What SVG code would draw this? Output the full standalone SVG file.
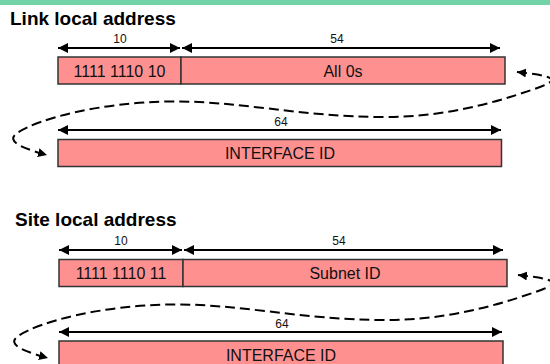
<svg xmlns="http://www.w3.org/2000/svg" width="550" height="364" viewBox="0 0 550 364">
<style>
.title{font-family:"Liberation Sans",Arial,sans-serif;font-weight:bold;font-size:19px;fill:#000}
.lbl{font-family:"Liberation Sans",Arial,sans-serif;font-size:12px;fill:#111;text-anchor:middle}
.btxt{font-family:"Liberation Sans",Arial,sans-serif;font-size:16px;fill:#111;text-anchor:middle}
.box{fill:#FF9090;stroke:#333;stroke-width:1.5}
.dim{stroke:#000;stroke-width:2.2;fill:none;marker-start:url(#ah);marker-end:url(#ah)}
.loop{stroke:#000;stroke-width:2;fill:none;stroke-dasharray:10,5;marker-start:url(#sh);marker-end:url(#sh)}
</style>
<defs>
<marker id="ah" viewBox="0 0 10 10" refX="10" refY="5" markerWidth="10" markerHeight="10" markerUnits="userSpaceOnUse" orient="auto-start-reverse"><path d="M0,0 L10,5 L0,10 z" fill="#000"/></marker>
<marker id="sh" viewBox="0 0 10 10" refX="10" refY="5" markerWidth="9" markerHeight="9" markerUnits="userSpaceOnUse" orient="auto-start-reverse"><path d="M0,0 L10,5 L0,10 z" fill="#000"/></marker>
</defs>
<rect x="0" y="0" width="550" height="5" fill="#72D3A8"/>

<g id="link-title"><text class="title" x="10" y="25">Link local address</text></g>
<g id="link-prefix"><rect class="box" x="58" y="57" width="123" height="27"/><text class="btxt" x="119.5" y="76.5">1111 1110 10</text></g>
<g id="link-zeros"><rect class="box" x="181" y="57" width="324" height="27"/><text class="btxt" x="343" y="76.5">All 0s</text></g>
<g id="link-iid"><rect class="box" x="58" y="139.5" width="443.5" height="27"/><text class="btxt" x="280" y="159">INTERFACE ID</text></g>

<g id="site-title"><text class="title" x="15" y="226">Site local address</text></g>
<g id="site-prefix"><rect class="box" x="59" y="259.5" width="124" height="27"/><text class="btxt" x="121" y="279">1111 1110 11</text></g>
<g id="site-subnet"><rect class="box" x="183" y="259.5" width="324" height="27"/><text class="btxt" x="345" y="279">Subnet ID</text></g>
<g id="site-iid"><rect class="box" x="59" y="341" width="444" height="27"/><text class="btxt" x="281" y="360.5">INTERFACE ID</text></g>

<g id="connectors">
<line class="dim" x1="58" y1="48" x2="180" y2="48"/>
<text class="lbl" x="120" y="42.5">10</text>
<line class="dim" x1="182" y1="48" x2="500" y2="48"/>
<text class="lbl" x="337" y="42.5">54</text>
<line class="dim" x1="58" y1="130" x2="501" y2="130"/>
<text class="lbl" x="281" y="125.5">64</text>
<path class="loop" d="M517,72 C545,75 565,78 540,87 C490,105 440,117 385,117 C300,117 235,100 167,101.5 C100,103 40,118 17,133 C8,140 14,146 47,155"/>

<line class="dim" x1="59" y1="250" x2="182" y2="250"/>
<text class="lbl" x="121" y="245">10</text>
<line class="dim" x1="184" y1="250" x2="503" y2="250"/>
<text class="lbl" x="339" y="245">54</text>
<line class="dim" x1="59" y1="332" x2="502" y2="332"/>
<text class="lbl" x="282" y="328">64</text>
<path class="loop" transform="translate(1,203)" d="M517,72 C545,75 565,78 540,87 C490,105 440,117 385,117 C300,117 235,100 167,101.5 C100,103 40,118 17,133 C8,140 14,146 47,155"/>
</g>
</svg>
